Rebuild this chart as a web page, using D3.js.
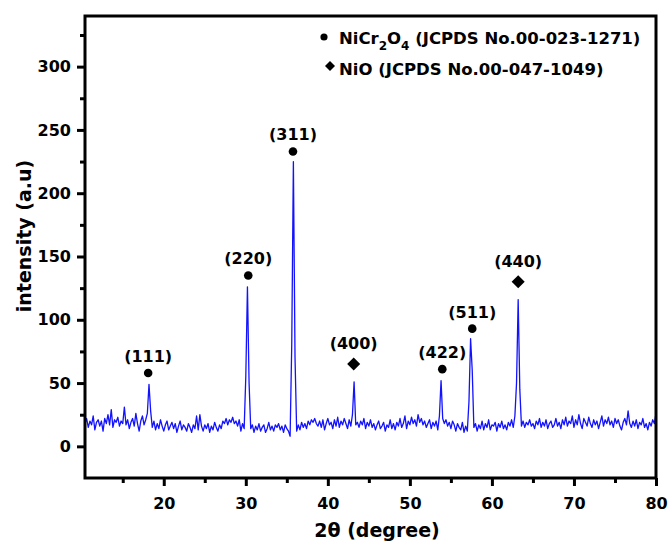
<!DOCTYPE html>
<meta charset="utf-8">
<html>
<script src="https://d3js.org/d3.v7.min.js"></script>
<style>
    body { margin: 0; background: #fff; }
    text { font-family: "DejaVu Sans", sans-serif; font-weight: bold; fill: #000; }
</style>
<body>
<div id="chart"></div>
<script>
    // XRD scan, 2theta from 10.4 to 80 deg in 0.2 deg steps
    var startAngle = 10.4, stepAngle = 0.2;
    var intensity = [
        18, 22, 15, 20,
        17, 24, 13, 19, 21,
        16, 20, 12, 22, 18,
        25, 17, 29, 15, 21,
        19, 23, 16, 20, 18,
        31, 17, 21, 14, 19,
        22, 16, 26, 18, 12,
        20, 24, 17, 21, 26,
        49, 28, 15, 20, 13,
        18, 14, 21, 16, 12,
        17, 20, 13, 16, 19,
        14, 18, 11, 16, 20,
        13, 17, 15, 12, 18,
        15, 11, 17, 14, 24,
        13, 25, 16, 12, 17,
        14, 18, 11, 16, 13,
        19, 15, 12, 17, 14,
        20, 18, 22, 17, 21,
        19, 23, 18, 20, 16,
        21, 12, 18, 14, 55,
        126, 50, 14, 17, 11,
        16, 13, 18, 12, 15,
        17, 11, 14, 19, 13,
        16, 12, 17, 15, 18,
        13, 16, 11, 17, 14,
        12, 8, 80, 225, 70,
        12, 17, 13, 19, 15,
        18, 14, 20, 17, 21,
        19, 22, 18, 16, 20,
        15, 21, 13, 18, 22,
        17, 19, 14, 21, 16,
        23, 15, 20, 17, 22,
        18, 14, 21, 16, 25,
        51, 17, 19, 15, 20,
        17, 22, 14, 19, 16,
        21, 15, 18, 13, 17,
        20, 14, 16, 19, 12,
        17, 15, 21, 14, 18,
        13, 19, 16, 22, 15,
        18, 24, 14, 20, 17,
        23, 18, 21, 16, 25,
        19, 22, 17, 20, 15,
        18, 21, 14, 19, 16,
        20, 13, 24, 52, 22,
        18, 21, 16, 19, 14,
        20, 17, 12, 18, 15,
        13, 19, 11, 16, 12,
        35, 85, 60, 15, 18,
        12, 17, 14, 20, 13,
        18, 15, 21, 13, 17,
        16, 19, 12, 18, 15,
        20, 14, 17, 13, 19,
        16, 21, 15, 24, 50,
        116, 45, 16, 20, 15,
        19, 17, 21, 16, 18,
        14, 20, 17, 22, 15,
        19, 16, 21, 14, 18,
        20, 15, 17, 22, 16,
        19, 14, 21, 17, 23,
        16, 20, 18, 24, 15,
        21, 17, 25, 18, 14,
        22, 19, 16, 23, 18,
        15, 21, 17, 20, 14,
        19, 24, 16, 21, 18,
        23, 17, 20, 15, 22,
        18, 21, 16, 13, 19,
        22, 17, 28, 18, 15,
        20, 16, 21, 14, 19,
        17, 22, 15, 18, 13,
        19, 16, 21, 18, 26
    ];

    var xTicks = [20, 30, 40, 50, 60, 70, 80];
    var xMinorTicks = [15, 25, 35, 45, 55, 65, 75];
    var yTicks = [0, 50, 100, 150, 200, 250, 300];
    var yMinorTicks = [25, 75, 125, 175, 225, 275, 325];

    // peak annotations
    var peakLabels = ["(111)", "(220)", "(311)", "(400)", "(422)", "(511)", "(440)"];
    var peakAngles = [18.1, 30.3, 35.75, 43.15, 53.95, 57.6, 63.2];
    var peakMarkY = [58, 135, 233, 65, 61, 93, 130];
    var peakPhase = ["dot", "dot", "dot", "diamond", "dot", "dot", "diamond"];

    var margin = { top: 16, right: 12, bottom: 66, left: 85 },
        width = 668 - margin.left - margin.right,
        height = 544 - margin.top - margin.bottom;

    var svg = d3.select("#chart")
        .append("svg")
        .attr("width", 668)
        .attr("height", 544)
        .append("g")
        .attr("transform", "translate(" + margin.left + "," + margin.top + ")");

    var x = d3.scaleLinear().domain([10.4, 80]).range([0, width]);
    var y = d3.scaleLinear().domain([-25, 340]).range([height, 0]);

    svg.append("clipPath").attr("id", "clip")
        .append("rect").attr("width", width).attr("height", height);

    // minor ticks first
    svg.append("g")
        .attr("transform", "translate(0," + height + ")")
        .call(d3.axisBottom(x).tickValues(xMinorTicks).tickSize(5).tickFormat(""))
        .call(function (g) { g.select(".domain").remove(); })
        .selectAll("line").attr("stroke-width", 3);
    svg.append("g")
        .call(d3.axisLeft(y).tickValues(yMinorTicks).tickSize(5).tickFormat(""))
        .call(function (g) { g.select(".domain").remove(); })
        .selectAll("line").attr("stroke-width", 3);

    // X axis
    var xAxis = svg.append("g")
        .attr("transform", "translate(0," + height + ")")
        .call(d3.axisBottom(x).tickValues(xTicks).tickSize(8));
    xAxis.select(".domain").remove();
    xAxis.selectAll("line").attr("stroke-width", 3);
    xAxis.selectAll("text")
        .attr("y", 31).attr("dy", 0)
        .style("font-size", "16px");

    // Y axis
    var yAxis = svg.append("g")
        .call(d3.axisLeft(y).tickValues(yTicks).tickSize(8).tickPadding(6));
    yAxis.select(".domain").remove();
    yAxis.selectAll("line").attr("stroke-width", 3);
    yAxis.selectAll("text").style("font-size", "16px");

    // axis labels
    svg.append("text")
        .attr("x", 292)
        .attr("y", height + 59)
        .style("text-anchor", "middle")
        .style("font-size", "19px")
        .text("2\u03B8 (degree)");

    svg.append("text")
        .attr("transform", "rotate(-90)")
        .attr("x", -220)
        .attr("y", -54)
        .style("text-anchor", "middle")
        .style("font-size", "19px")
        .text("intensity (a.u)");

    // the pattern
    var line = d3.line()
        .x(function (d, i) { return x(startAngle + i * stepAngle); })
        .y(function (d) { return y(d); });

    svg.append("path")
        .datum(intensity)
        .attr("clip-path", "url(#clip)")
        .attr("fill", "none")
        .attr("stroke", "#1212ff")
        .attr("stroke-width", 1.3)
        .attr("stroke-linejoin", "round")
        .attr("d", line);

    // frame
    svg.append("rect")
        .attr("width", width)
        .attr("height", height)
        .attr("fill", "none")
        .attr("stroke", "#000")
        .attr("stroke-width", 3);

    var dot = d3.symbol().type(d3.symbolCircle).size(58);
    var diamond = d3.symbol().type(d3.symbolSquare).size(85);

    peakLabels.forEach(function (lab, i) {
        var px = x(peakAngles[i]), py = y(peakMarkY[i]);
        var isDot = peakPhase[i] === "dot";
        svg.append("path")
            .attr("d", isDot ? dot() : diamond())
            .attr("transform", "translate(" + px + "," + py + ")" + (isDot ? "" : " rotate(45)"))
            .attr("fill", "#000");
        svg.append("text")
            .attr("x", px)
            .attr("y", py - (isDot ? 11 : 15))
            .style("text-anchor", "middle")
            .style("font-size", "16px")
            .text(lab);
    });

    // legend
    svg.append("path")
        .attr("d", d3.symbol().type(d3.symbolCircle).size(40)())
        .attr("transform", "translate(" + (324 - margin.left) + "," + (37 - margin.top) + ")");
    svg.append("path")
        .attr("d", d3.symbol().type(d3.symbolSquare).size(50)())
        .attr("transform", "translate(" + (330 - margin.left) + "," + (66 - margin.top) + ") rotate(45)");

    var leg1 = svg.append("text")
        .attr("x", 339 - margin.left)
        .attr("y", 44 - margin.top)
        .style("font-size", "16.5px");
    leg1.append("tspan").text("NiCr");
    leg1.append("tspan").attr("dy", 6).style("font-size", "12px").text("2");
    leg1.append("tspan").attr("dy", -6).text("O");
    leg1.append("tspan").attr("dy", 6).style("font-size", "12px").text("4");
    leg1.append("tspan").attr("dy", -6).text(" (JCPDS No.00-023-1271)");

    svg.append("text")
        .attr("x", 339 - margin.left)
        .attr("y", 75 - margin.top)
        .style("font-size", "16.5px")
        .text("NiO (JCPDS No.00-047-1049)");
</script>
</body>
</html>
